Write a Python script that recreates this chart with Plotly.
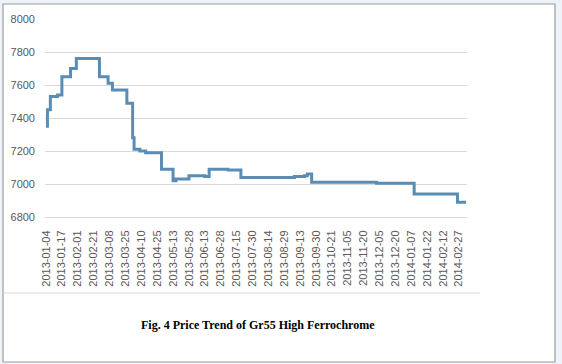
import plotly.graph_objects as go

# Trading-day index where the price changes, and the price from that day on
day_index = [0, 1, 3, 8, 11, 17, 21, 37, 43, 46, 56, 60, 61, 65, 69, 80, 88, 90,
             99, 110, 113, 126, 135, 172, 179, 181, 184, 229, 255, 285, 291]
price = [7350, 7450, 7530, 7540, 7650, 7700, 7760, 7650, 7610, 7570, 7490, 7280,
         7210, 7200, 7190, 7090, 7020, 7030, 7050, 7045, 7090, 7085, 7040, 7045,
         7050, 7060, 7010, 7005, 6940, 6890, 6890]

tick_labels = ["2013-01-04", "2013-01-17", "2013-02-01", "2013-02-21", "2013-03-08",
               "2013-03-25", "2013-04-10", "2013-04-25", "2013-05-13", "2013-05-28",
               "2013-06-13", "2013-06-28", "2013-07-15", "2013-07-30", "2013-08-14",
               "2013-08-29", "2013-09-13", "2013-09-30", "2013-10-21", "2013-11-05",
               "2013-11-20", "2013-12-05", "2013-12-20", "2014-01-07", "2014-01-22",
               "2014-02-12", "2014-02-27"]
label_every = 11
tick_vals = [i * label_every for i in range(len(tick_labels))]

y_ticks = [6800, 7000, 7200, 7400, 7600, 7800, 8000]

fig = go.Figure()
fig.add_trace(go.Scatter(
    x=day_index, y=price, mode="lines", line_shape="hv",
    line=dict(color="#5a8db6", width=3), showlegend=False, hoverinfo="skip"))

# plot area in pixels: x 45..467, y 19..217
L, R, T, B = 45, 467, 19, 217
W, H = R - L, B - T
def px(x):
    return (x - L) / W
def py(y):
    return (B - y) / H

fig.update_layout(
    width=562, height=364,
    margin=dict(l=L, r=562 - R, t=T, b=364 - B),
    paper_bgcolor="#eef3fa", plot_bgcolor="white",
    font=dict(family="Liberation Sans, Arial, sans-serif", size=11, color="#595959"),
    xaxis=dict(range=[-0.7, 291.6], tickmode="array", tickvals=tick_vals,
               ticktext=tick_labels, tickangle=-90, showgrid=False,
               showline=True, linecolor="#d9d9d9", linewidth=1, ticks="",
               ticklabelstandoff=8, zeroline=False, fixedrange=True),
    yaxis=dict(range=[6800, 8000], tickmode="array", tickvals=y_ticks,
               showgrid=True, gridcolor="#d9d9d9", gridwidth=1, ticks="",
               showline=False, zeroline=False, ticklabelstandoff=9, fixedrange=True),
    shapes=[
        dict(type="rect", xref="paper", yref="paper", x0=px(3), x1=px(555),
             y0=py(362), y1=py(4), fillcolor="white",
             line=dict(color="#9c9c9c", width=1.2), layer="below"),
        dict(type="line", xref="paper", yref="paper", x0=px(4), x1=px(480),
             y0=py(293), y1=py(293), line=dict(color="#d9d9d9", width=1)),
    ],
    annotations=[
        dict(text="<b>Fig. 4 Price Trend of Gr55 High Ferrochrome</b>",
             xref="paper", yref="paper", x=px(258), y=py(325),
             xanchor="center", yanchor="middle", showarrow=False,
             font=dict(family="Liberation Serif, Times New Roman, serif",
                       size=12, color="black")),
    ],
)

fig.write_html(
    "out.html",
    config={"displayModeBar": False},
    post_script="document.body.style.margin='0';"
                "document.body.style.background='#eef3fa';",
)
